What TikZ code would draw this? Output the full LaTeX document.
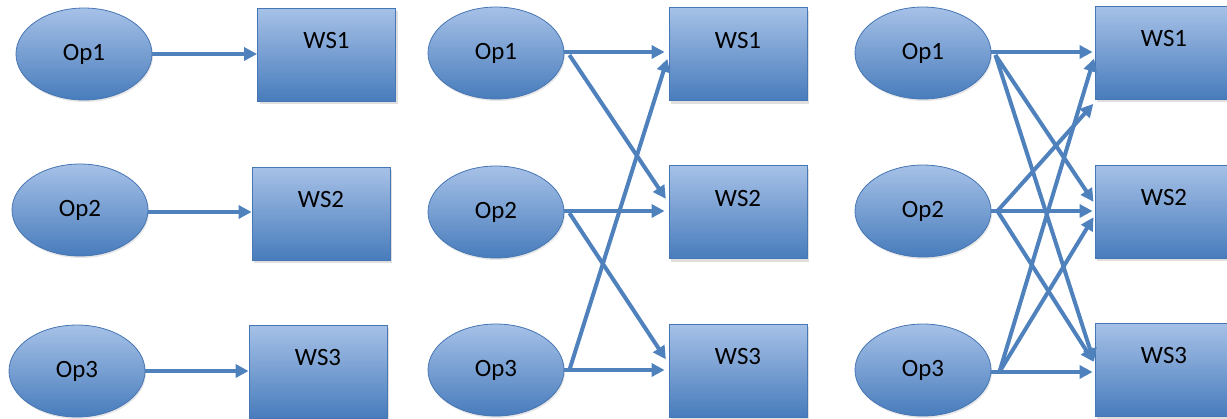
\documentclass[tikz,border=0pt]{standalone}
\usepackage{fontspec}
\setmainfont{Carlito}
\usetikzlibrary{arrows.meta,shapes.geometric,shadows}
\definecolor{arr}{RGB}{79,129,189}
\definecolor{edgec}{RGB}{70,118,180}
\definecolor{topc}{RGB}{166,193,231}
\definecolor{botc}{RGB}{72,124,188}
\tikzset{
  op/.style={ellipse, draw=edgec, line width=0.8bp, top color=topc, bottom color=botc,
    minimum width=136bp, minimum height=92bp, inner sep=0pt,
    font=\fontsize{25}{29}\selectfont,
    drop shadow={shadow xshift=1bp, shadow yshift=-2bp, opacity=0.2}},
  ws/.style={rectangle, draw=edgec, line width=0.8bp, top color=topc, bottom color=botc,
    minimum width=138bp, minimum height=93bp, inner sep=0pt,
    drop shadow={shadow xshift=2bp, shadow yshift=-3bp, opacity=0.25}},
  lbl/.style={font=\fontsize{25}{29}\selectfont, yshift=14bp},
  conn/.style={draw=arr, line width=4bp, -{Triangle[length=13bp,width=13bp]}},
}
\begin{document}
\begin{tikzpicture}[x=1bp,y=-1bp]
\useasboundingbox (0,0) rectangle (1227,418);
\clip (0,0) rectangle (1227,418);
% Panel 1
\node[op] (o11) at (84,54) {Op1};
\node[op] (o12) at (80,210) {Op2};
\node[op] (o13) at (77,371) {Op3};
\node[ws, label={[lbl]center:WS1}] (w11) at (326.5,54.5) {};
\node[ws, label={[lbl]center:WS2}] (w12) at (321,213.5) {};
\node[ws, label={[lbl]center:WS3}] (w13) at (318,371.5) {};
\draw[conn] (o11.east) -- (o11.east -| w11.west);
\draw[conn] ([yshift=-2bp]o12.east) -- ([yshift=-2bp]o12.east -| w12.west);
\draw[conn] (o13.east) -- (o13.east -| w13.west);
% Panel 2
\node[op] (o21) at (496,53) {Op1};
\node[op] (o22) at (496,212) {Op2};
\node[op] (o23) at (496,370) {Op3};
\node[ws, label={[lbl]center:WS1}] (w21) at (738,54) {};
\node[ws, label={[lbl]center:WS2}] (w22) at (738,212) {};
\node[ws, label={[lbl]center:WS3}] (w23) at (738,370.5) {};
\draw[conn, shorten >=4bp] ([yshift=1bp]o21.east) -- ([yshift=1bp]o21.east -| w21.west);
\draw[conn, shorten >=4bp] ([yshift=1bp]o22.east) -- ([yshift=1bp]o22.east -| w22.west);
\draw[conn, shorten >=4bp] (o23.east) -- (o23.east -| w23.west);
\draw[conn, shorten >=5bp] ([xshift=5bp,yshift=-2bp]o21.east) -- ([yshift=9bp]w22.west);
\draw[conn, shorten >=5bp] ([xshift=5bp,yshift=-1bp]o22.east) -- ([yshift=7bp]w23.west);
\draw[conn, shorten >=4bp] ([xshift=5bp]o23.east) -- ([yshift=-1bp]w21.west);
% Panel 3
\node[op] (o31) at (923,53) {Op1};
\node[op] (o32) at (923,211) {Op2};
\node[op] (o33) at (923,370) {Op3};
\node[ws, label={[lbl]center:WS1}] (w31) at (1164,52.5) {};
\node[ws, label={[lbl]center:WS2}] (w32) at (1164,211.5) {};
\node[ws, label={[lbl]center:WS3}] (w33) at (1164,369.5) {};
\draw[conn, shorten >=2bp] ([yshift=1bp]o31.east) -- ([yshift=1bp]o31.east -| w31.west);
\draw[conn, shorten >=2bp] (o32.east) -- (o32.east -| w32.west);
\draw[conn, shorten >=2bp] ([yshift=-2bp]o33.east) -- ([yshift=-2bp]o33.east -| w33.west);
\draw[conn, shorten >=2bp] ([xshift=4bp,yshift=-2bp]o31.east) -- ([yshift=8bp]w32.west);
\draw[conn, shorten >=2bp] ([xshift=4bp,yshift=-2bp]o31.east) -- ([yshift=6bp]w33.west);
\draw[conn, shorten >=2bp] ([xshift=6bp]o32.east) -- ([yshift=-3bp]w31.south west);
\draw[conn, shorten >=2bp] ([xshift=6bp]o32.east) -- ([yshift=6bp]w33.west);
\draw[conn, shorten >=2bp] ([xshift=8bp,yshift=-2bp]o33.east) -- ([yshift=-4bp]w31.west);
\draw[conn, shorten >=2bp] ([xshift=8bp,yshift=-2bp]o33.east) -- ([yshift=-4bp]w32.west);
\end{tikzpicture}
\end{document}
